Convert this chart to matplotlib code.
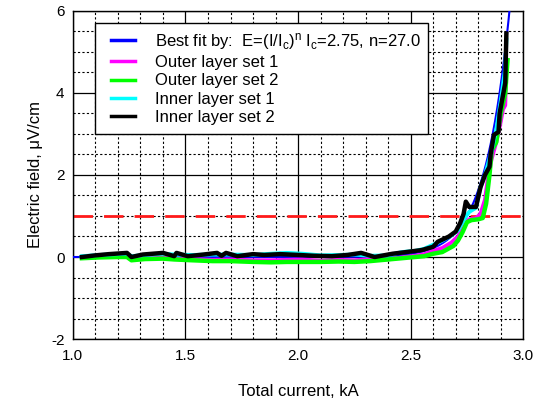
import numpy as np
import matplotlib.pyplot as plt
from matplotlib.ticker import MultipleLocator
from matplotlib.patches import Rectangle

plt.rcParams['font.family'] = ['Liberation Sans', 'DejaVu Sans']
plt.rcParams['mathtext.fontset'] = 'custom'
plt.rcParams['mathtext.rm'] = 'Liberation Sans'
plt.rcParams['mathtext.it'] = 'Liberation Sans'

# --- Fit parameters (E = (I/Ic)^n) ---
Ic = 2.75
n_exp = 27.0
E_crit = 1.0  # criterion, uV/cm

# --- Measured curves: current (kA) vs electric field (uV/cm) ---
I_outer1 = [1.04, 1.12, 1.20, 1.24, 1.26, 1.32, 1.40, 1.45, 1.53, 1.62, 1.70, 1.80,
            1.88, 1.95, 2.02, 2.10, 2.18, 2.25, 2.32, 2.40, 2.46, 2.52, 2.56, 2.60,
            2.64, 2.68, 2.71, 2.74, 2.76, 2.79, 2.81, 2.83, 2.845, 2.86, 2.88, 2.90,
            2.91, 2.92, 2.925]
E_outer1 = [-0.01, 0.0, 0.02, 0.02, -0.05, -0.03, -0.01, -0.04, -0.05, -0.07, -0.06, -0.08,
            -0.08, -0.07, -0.06, -0.09, -0.07, -0.08, -0.05, -0.06, -0.01, 0.03, 0.07, 0.15,
            0.22, 0.35, 0.5, 0.82, 0.92, 0.95, 1.05, 1.4, 2.0, 2.4, 2.8, 3.3,
            3.6, 3.7, 4.8]

I_outer2 = [1.04, 1.12, 1.20, 1.24, 1.26, 1.32, 1.40, 1.45, 1.53, 1.62, 1.70, 1.80,
            1.88, 1.95, 2.02, 2.10, 2.18, 2.25, 2.32, 2.40, 2.46, 2.52, 2.56, 2.60,
            2.64, 2.69, 2.71, 2.73, 2.75, 2.77, 2.80, 2.82, 2.835, 2.85, 2.86, 2.88, 2.90,
            2.92, 2.93]
E_outer2 = [-0.03, -0.01, 0.0, 0.0, -0.08, -0.05, -0.04, -0.06, -0.08, -0.1, -0.1, -0.12,
            -0.13, -0.12, -0.12, -0.12, -0.11, -0.12, -0.1, -0.06, -0.03, 0.0, 0.02, 0.08,
            0.12, 0.27, 0.4, 0.6, 0.85, 0.9, 0.92, 0.95, 1.3, 2.0, 2.6, 2.8, 3.5,
            4.0, 4.8]

I_inner1 = [1.04, 1.12, 1.20, 1.24, 1.26, 1.32, 1.40, 1.45, 1.53, 1.62, 1.70, 1.80,
            1.88, 1.95, 2.02, 2.10, 2.18, 2.25, 2.32, 2.40, 2.46, 2.52, 2.56, 2.60,
            2.64, 2.68, 2.71, 2.74, 2.76, 2.79, 2.81, 2.83, 2.845, 2.86, 2.88, 2.90,
            2.91, 2.92, 2.925]
E_inner1 = [0.02, 0.05, 0.07, 0.08, 0.02, 0.05, 0.08, 0.06, 0.05, 0.06, 0.06, 0.05,
            0.08, 0.1, 0.08, 0.04, 0.05, 0.06, 0.03, 0.04, 0.12, 0.15, 0.2, 0.3,
            0.4, 0.52, 0.65, 0.95, 1.1, 1.2, 1.7, 2.0, 2.3, 2.6, 3.1, 3.8,
            4.2, 4.6, 5.3]

I_inner2 = [1.04, 1.10, 1.16, 1.24, 1.26, 1.31, 1.40, 1.45, 1.46, 1.51, 1.58, 1.64,
            1.66, 1.68, 1.73, 1.80, 1.85, 1.92, 2.00, 2.07, 2.15, 2.22, 2.28, 2.34,
            2.42, 2.48, 2.55, 2.60, 2.62, 2.67, 2.70, 2.72, 2.735, 2.745, 2.76,
            2.79, 2.81, 2.83, 2.85, 2.855, 2.87, 2.89, 2.895, 2.91, 2.92, 2.925]
E_inner2 = [0.0, 0.04, 0.07, 0.1, 0.0, 0.06, 0.1, 0.02, 0.1, 0.02, 0.06, 0.1,
            0.03, 0.1, 0.02, 0.07, 0.05, 0.07, 0.05, 0.03, 0.02, 0.05, 0.1, 0.0,
            0.08, 0.12, 0.17, 0.25, 0.37, 0.5, 0.62, 0.83, 1.05, 1.35, 1.22,
            1.22, 1.7, 2.0, 2.2, 2.5, 2.98, 3.05, 3.5, 3.95, 4.25, 5.45]

fit_label = r"Best fit by:  E=(I/I$_\mathrm{c}$)$^\mathrm{n}$ I$_\mathrm{c}$=2.75, n=27.0"

# --- Figure ---
fig = plt.figure(figsize=(5.40, 4.01), dpi=100)
ax = fig.add_axes([0.135, 0.1546, 0.834, 0.818])

I_fit = np.linspace(1.0, 3.0, 400)
E_fit = (I_fit / Ic) ** n_exp

ax.axhline(E_crit, color='#ff1a1a', lw=2, dashes=(7, 4), zorder=2)
ax.plot(I_fit, E_fit, color='#0000ff', lw=1.5, zorder=3, label=fit_label)
ax.plot(I_outer1, E_outer1, color='#ff00ff', lw=2.8, zorder=4, label='Outer layer set 1')
ax.plot(I_outer2, E_outer2, color='#00ff00', lw=3.2, zorder=4, label='Outer layer set 2')
ax.plot(I_inner1, E_inner1, color='#00ffff', lw=2.8, zorder=5, label='Inner layer set 1')
ax.plot(I_inner2, E_inner2, color='black', lw=3.2, zorder=6, label='Inner layer set 2')

ax.set_xlim(1.0, 3.0)
ax.set_ylim(-2, 6)
ax.xaxis.set_major_locator(MultipleLocator(0.5))
ax.xaxis.set_minor_locator(MultipleLocator(0.1))
ax.yaxis.set_major_locator(MultipleLocator(2))
ax.yaxis.set_minor_locator(MultipleLocator(0.5))
ax.xaxis.set_major_formatter(plt.FuncFormatter(lambda v, p: f"{v:.1f}"))
ax.yaxis.set_major_formatter(plt.FuncFormatter(lambda v, p: f"{v:.0f}"))

ax.grid(which='major', color='black', lw=0.9, ls='-', zorder=1)
ax.grid(which='minor', color='black', lw=0.8, ls=(0, (2, 2)), zorder=1)
ax.set_axisbelow(True)
ax.tick_params(which='both', length=0, labelsize=11)
ax.tick_params(axis='x', pad=7)
ax.tick_params(axis='y', pad=6)
for sp in ax.spines.values():
    sp.set_linewidth(1.0)

ax.set_xlabel("Total current, kA", fontsize=12, labelpad=15)
ax.set_ylabel("Electric field, \u03bcV/cm", fontsize=12, labelpad=6)

# legend without its own frame; box drawn separately around the entries
leg = ax.legend(loc='upper left', bbox_to_anchor=(0.085, 0.94), borderaxespad=0,
                fontsize=12, frameon=False, handlelength=1.4, handletextpad=1.2,
                labelspacing=0.2, borderpad=0)
leg.set_zorder(10)
for h in leg.get_lines():
    h.set_linewidth(2.5)

fig.canvas.draw()
r = fig.canvas.get_renderer()
lb = leg.get_window_extent(r)
tx1 = max(t.get_window_extent(r).x1 for t in leg.get_texts())
pad = 8
inv = fig.transFigure.inverted()
(x0, y0) = inv.transform((lb.x0 - 16, lb.y0 - pad - 1))
(x1, y1) = inv.transform((tx1 + pad, lb.y1 + pad))
box = Rectangle((x0, y0), x1 - x0, y1 - y0, transform=fig.transFigure,
                facecolor='white', edgecolor='black', lw=1.0, zorder=9)
ax.add_artist(box)
box.set_clip_on(False)

plt.savefig("out.png", dpi=100)
plt.close()
